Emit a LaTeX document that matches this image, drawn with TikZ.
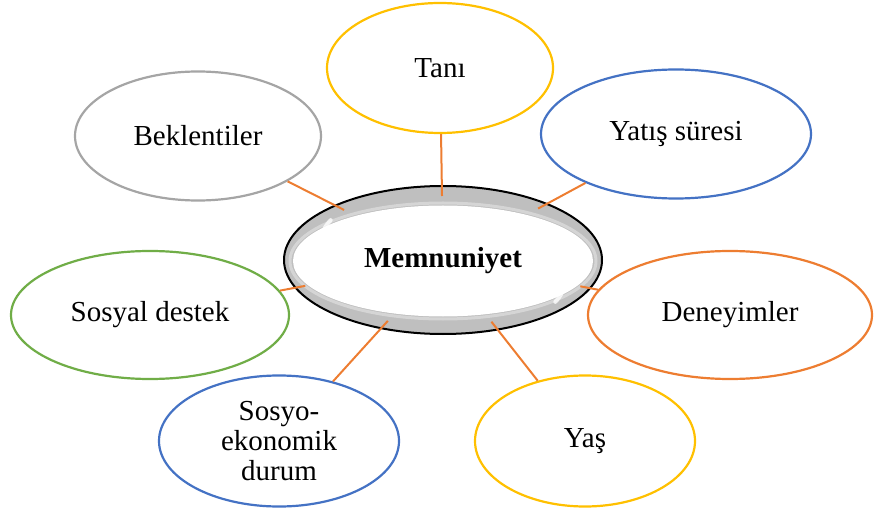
\documentclass[tikz,border=0pt]{standalone}
\usepackage{fontspec}
\setmainfont{Liberation Serif}
\usetikzlibrary{shapes.geometric}
\definecolor{cyellow}{HTML}{FFC000}
\definecolor{cgray}{HTML}{A5A5A5}
\definecolor{cblue}{HTML}{4472C4}
\definecolor{corange}{HTML}{ED7D31}
\definecolor{cgreen}{HTML}{70AD47}
\definecolor{ringgray}{HTML}{BFBFBF}
\begin{document}
\begin{tikzpicture}[x=1pt,y=-1pt,
  bubble/.style={ellipse, draw, line width=2.2pt, fill=white, inner sep=0pt,
    font=\fontsize{29}{30}\selectfont, align=center},
  link/.style={draw=corange, line width=2pt, shorten >=-11pt}]
\useasboundingbox (0,0) rectangle (874,510);

% central ring
\node[ellipse, draw=black, line width=2pt, fill=ringgray, inner sep=0pt,
  minimum width=318pt, minimum height=148pt] (ring) at (443,260) {};
\node[ellipse, draw=white, line width=3pt, draw opacity=0.35, inner sep=0pt,
  minimum width=306pt, minimum height=116pt] (glow) at (443,261) {};
% bright rims at the inner left and right edges
\draw[white, line width=4pt, opacity=0.8, line cap=round]
  (glow.160) arc[start angle=160, end angle=200, x radius=153pt, y radius=58pt];
\draw[white, line width=4pt, opacity=0.8, line cap=round]
  (glow.-20) arc[start angle=-20, end angle=20, x radius=153pt, y radius=58pt];
\node[ellipse, fill=white, inner sep=0pt, minimum width=300pt,
  minimum height=111pt, font=\fontsize{29}{30}\selectfont\bfseries] (mem) at (443,261) {Memnuniyet};

% surrounding factors
\node[bubble, draw=cyellow, minimum width=226pt, minimum height=130pt] (tani) at (440,68) {Tanı};
\node[bubble, draw=cgray, minimum width=246pt, minimum height=129pt] (bek) at (198,136) {Beklentiler};
\node[bubble, draw=cblue, minimum width=270pt, minimum height=129pt] (yatis) at (676,134) {Yatış süresi};
\node[bubble, draw=corange, minimum width=284pt, minimum height=128pt] (den) at (730,315) {Deneyimler};
\node[bubble, draw=cgreen, minimum width=278pt, minimum height=128pt] (sos) at (150,315) {Sosyal destek};
\node[bubble, draw=cblue, minimum width=240pt, minimum height=131pt] (eko) at (279,441) {Sosyo-\\ekonomik\\durum};
\node[bubble, draw=cyellow, minimum width=220pt, minimum height=131pt] (yas) at (585,441) {Yaş};

% connectors
\foreach \n in {tani,bek,yatis,den,sos,eko,yas}
  \draw[link] (\n) -- (ring);
\end{tikzpicture}
\end{document}
